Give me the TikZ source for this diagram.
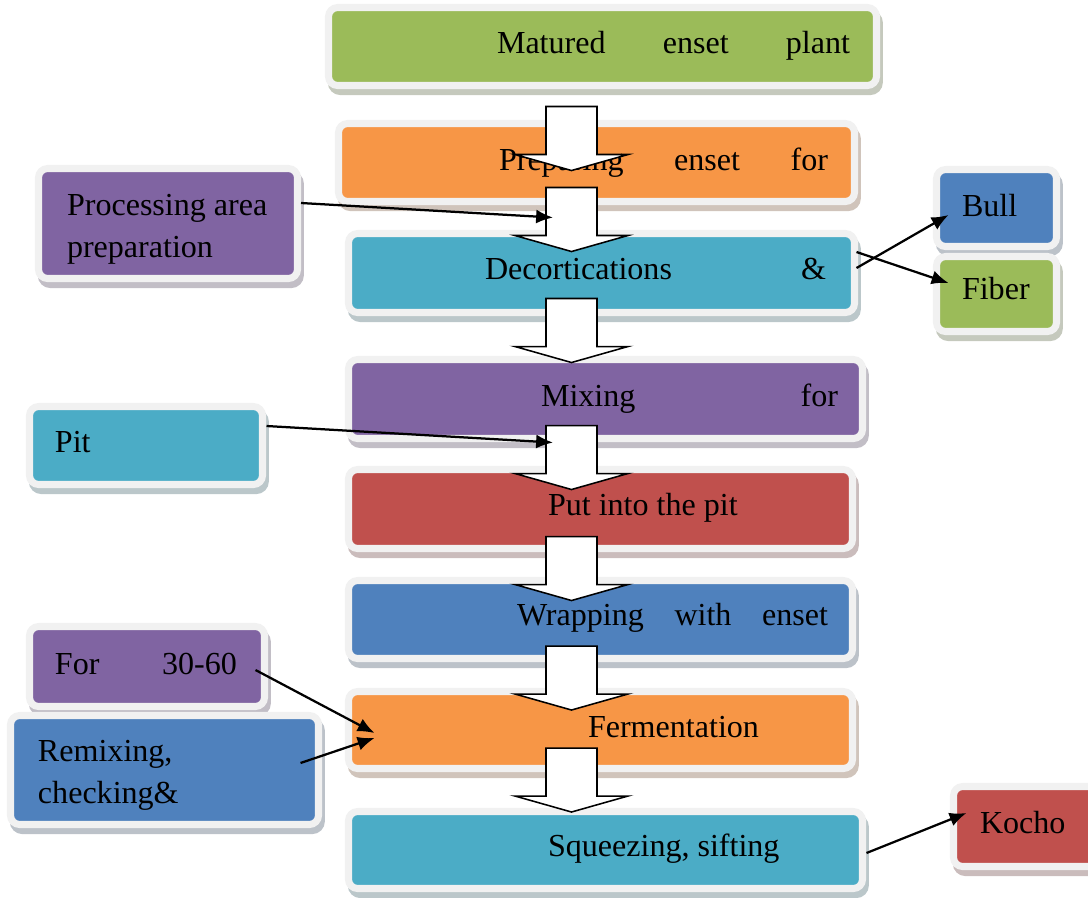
\documentclass[tikz,border=0pt]{standalone}
\usepackage{fontspec}
\setmainfont{Liberation Serif}
\usetikzlibrary{calc,shadows,arrows.meta}

\definecolor{cgreen}{RGB}{155,187,89}
\definecolor{corange}{RGB}{247,150,70}
\definecolor{cteal}{RGB}{75,172,198}
\definecolor{cpurple}{RGB}{128,100,162}
\definecolor{cred}{RGB}{192,80,77}
\definecolor{cblue}{RGB}{79,129,189}
\definecolor{framecol}{RGB}{241,241,241}

\newdimen\pxl \pxl=0.025cm
% text inside a box: [lift], box width, left offset, content
\newcommand{\intext}[4][3]{\makebox[#2\pxl][l]{\hspace*{#3\pxl}\raisebox{#1\pxl}[\height][\depth]{#4}}}

\begin{document}
\begin{tikzpicture}[x=0.025cm, y=-0.025cm, >={Latex[length=12pt,width=10pt]},
    stagebox/.style={rectangle, rounded corners=6.5pt, fill=#1, draw=framecol,
        line width=5pt, inner sep=0pt,
        font=\fontsize{22.8pt}{29.9pt}\selectfont,
        drop shadow={shadow xshift=2pt, shadow yshift=-4.3pt, opacity=1,
            fill=#1!40!black!30, draw=#1!40!black!30, line width=5pt}},
    blockarr/.style={draw=black, fill=white, line width=1.1pt, line join=miter},
    thinarr/.style={->, line width=1.6pt}]
\useasboundingbox (0,0) rectangle (1088,897);

% main column
\node[stagebox=cgreen, minimum width=548*\pxl, minimum height=78*\pxl] (matured) at (602.5,46.5)
    {\intext[1]{548}{168.5}{\makebox[353\pxl][s]{Matured enset plant}}};
\node[stagebox=corange, minimum width=516*\pxl, minimum height=78*\pxl] (prep) at (596.5,162.5)
    {\intext[0]{516}{160.5}{\makebox[329\pxl][s]{Preparing enset for}}};
\node[stagebox=cteal, minimum width=506*\pxl, minimum height=79*\pxl] (decort) at (601.5,273)
    {\intext[4]{506}{136.5}{\makebox[341\pxl][s]{Decortications \&}}};
\node[stagebox=cpurple, minimum width=514*\pxl, minimum height=79*\pxl] (mixing) at (605.5,399)
    {\intext[0]{514}{192.5}{\makebox[297\pxl][s]{Mixing for}}};
\node[stagebox=cred, minimum width=504*\pxl, minimum height=79*\pxl] (putpit) at (600.5,509)
    {\intext[1]{504}{199.5}{Put into the pit}};
\node[stagebox=cblue, minimum width=504*\pxl, minimum height=78*\pxl] (wrap) at (600.5,619.5)
    {\intext[2]{504}{168.5}{\makebox[311\pxl][s]{Wrapping with enset}}};
\node[stagebox=corange, minimum width=504*\pxl, minimum height=77*\pxl] (ferm) at (600.5,730)
    {\intext{504}{239.5}{Fermentation}};
\node[stagebox=cteal, minimum width=514*\pxl, minimum height=77*\pxl] (squeeze) at (605.5,850)
    {\intext[1]{514}{199.5}{Squeezing, sifting}};

% side boxes
\node[stagebox=cpurple, minimum width=259*\pxl, minimum height=110*\pxl] (proc) at (168,223.5)
    {\intext[-5]{259}{28.5}{\begin{tabular}{@{}l@{}}Processing area\\preparation\end{tabular}}};
\node[stagebox=cteal, minimum width=233*\pxl, minimum height=78*\pxl] (pit) at (146,445.5)
    {\intext{233}{25.5}{Pit}};
\node[stagebox=cpurple, minimum width=235*\pxl, minimum height=80*\pxl] (days) at (147,666.5)
    {\intext{235}{25.5}{\makebox[182\pxl][s]{For 30-60}}};
\node[stagebox=cblue, minimum width=308*\pxl, minimum height=109*\pxl] (remix) at (164.5,770)
    {\intext[-4]{308}{27.5}{\begin{tabular}{@{}l@{}}Remixing,\\checking\&\end{tabular}}};
\node[stagebox=cblue, minimum width=120*\pxl, minimum height=77*\pxl] (bull) at (996.5,208)
    {\intext[2]{120}{25.5}{Bull}};
\node[stagebox=cgreen, minimum width=120*\pxl, minimum height=75*\pxl] (fiber) at (996.5,294)
    {\intext[5]{120}{25.5}{Fiber}};
\node[stagebox=cred, minimum width=147*\pxl, minimum height=80*\pxl] (kocho) at (1027,826.5)
    {\intext[4]{147}{26.5}{Kocho}};

% block arrows down the column
\foreach \from/\dy in {matured/17.5, prep/-17.5, decort/-17.5, mixing/-16.5, putpit/-15.5, wrap/-16, ferm/-24}
    \draw[blockarr] ($(571.5,0 |- \from.south)+(-25.5,\dy)$) -- ++(0,48) -- ++(-31,0)
        -- ++(56.5,16) -- ++(56.5,-16) -- ++(-31,0) -- ++(0,-48) -- cycle;

% side arrows
\draw[thinarr] ($(proc.east)+(0,-20.5)$) -- ($(prep.south)+(-43.5,12.5)$);
\draw[thinarr] ($(pit.east)+(0.5,-19.5)$) -- ($(mixing.south)+(-52.5,0.5)$);
\draw[thinarr] ($(decort.east)+(-1.5,-5)$) -- ($(bull.west)+(15.5,7)$);
\draw[thinarr] ($(decort.east)+(-1.5,-21)$) -- ($(fiber.west)+(15.5,-11)$);
\draw[thinarr] ($(days.east)+(-12.5,3.5)$) -- ($(ferm.west)+(29.5,3)$);
\draw[thinarr] ($(remix.east)+(-21.5,-7)$) -- ($(ferm.west)+(29.5,8)$);
\draw[thinarr] ($(squeeze.east)+(0.5,3)$) -- ($(kocho.west)+(16.5,-13.5)$);
\end{tikzpicture}
\end{document}
